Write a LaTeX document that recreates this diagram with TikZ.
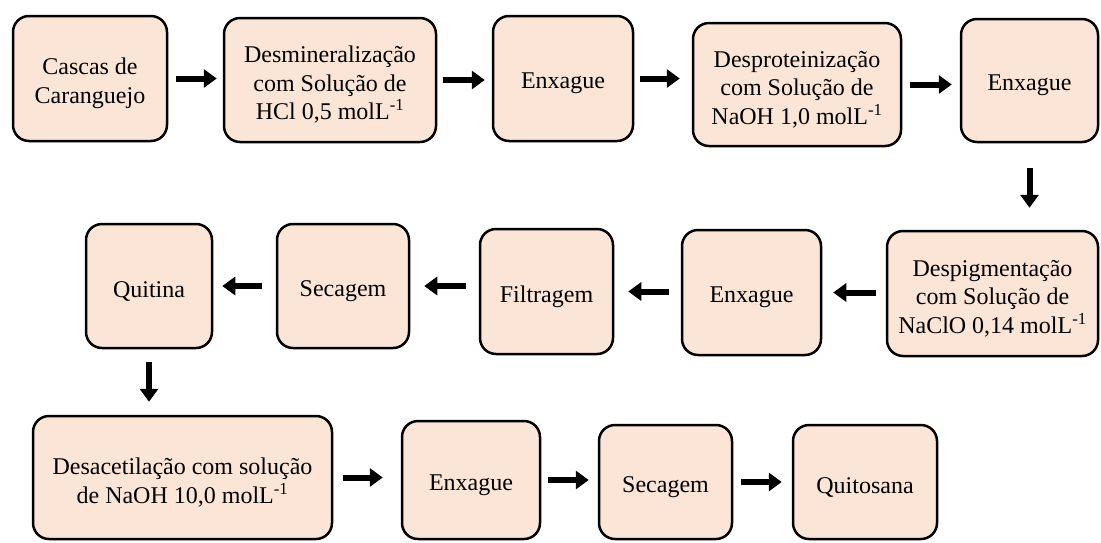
\documentclass[tikz,border=0pt]{standalone}
\usepackage{fontspec}
\setmainfont{Liberation Serif}
\usetikzlibrary{arrows.meta}
\definecolor{peach}{HTML}{FBE5D6}
\tikzstyle{stage}=[draw=black,line width=2.5pt,fill=peach,rounded corners=16pt,inner sep=0pt]
\tikzstyle{stage text}=[align=center,inner sep=0pt,font=\fontsize{24}{28.5}\selectfont]
\tikzstyle{flow} = [draw,line width=6pt,-{Triangle[length=13pt,width=18pt]}]

\begin{document}
\begin{tikzpicture}[x=1pt,y=-1pt]
\useasboundingbox (0,0) rectangle (1101,542);
\foreach \pos/\name/\w/\h/\txt in {
    {(90,78.5)/cascas/154/125/{Cascas de\\Caranguejo}},
    {(330,80)/desmin/212/124/{Desmineralização\\com Solução de\\HCl 0,5 molL\textsuperscript{-1}}},
    {(563,78.5)/enxA/140/125/{Enxague}},
    {(797,84.5)/desprot/208/123/{Desproteinização\\com Solução de\\NaOH 1,0 molL\textsuperscript{-1}}},
    {(1029.5,80.5)/enxB/137/123/{Enxague}},
    {(992.5,293.5)/despig/211/125/{Despigmentação\\com Solução de\\NaClO 0,14 molL\textsuperscript{-1}}},
    {(751.5,292.5)/enxC/139/125/{Enxague}},
    {(546.5,291.5)/filtr/133/125/{Filtragem}},
    {(343,286)/secA/132/124/{Secagem}},
    {(149,286)/quitina/126/124/{Quitina}},
    {(182.5,477.5)/desacet/299/123/{Desacetilação com solução\\de NaOH 10,0 molL\textsuperscript{-1}}},
    {(471,480)/enxD/138/118/{Enxague}},
    {(665.5,482)/secB/133/114/{Secagem}},
    {(865,482)/quitosana/144/114/{Quitosana}}}{
  \node[stage,minimum width=\w pt,minimum height=\h pt] (\name) at \pos {};
  \node[stage text] (\name-txt) at ([yshift=-5pt]\name.center) {\txt};
}
% 0 = right, 1 = left, 2 = down
\foreach \source/\dest/\sa/\sb/\dir in {cascas/desmin/8/6/0, desmin/enxA/6/7/0,
                                   enxA/desprot/6/12/0, desprot/enxB/8/8/0,
                                   enxB/despig/25/22/2, despig/enxC/10/11/1,
                                   enxC/filtr/12/14/1, filtr/secA/13/14/1,
                                   secA/quitina/14/9/1, quitina/desacet/13/13/2,
                                   desacet/enxD/10/18/0, enxD/secB/7/9/0,
                                   secB/quitosana/8/10/0} {
  \ifcase\dir
  \path[flow,shorten <=\sa pt,shorten >=\sb pt] (\source.east) -- (\source.east -| \dest.west);
  \or
  \path[flow,shorten <=\sa pt,shorten >=\sb pt] (\dest.east -| \source.west) -- (\dest.east);
  \or
  \path[flow,shorten <=\sa pt,shorten >=\sb pt] (\source.south) -- (\source.south |- \dest.north);
  \fi
}
\end{tikzpicture}
\end{document}
